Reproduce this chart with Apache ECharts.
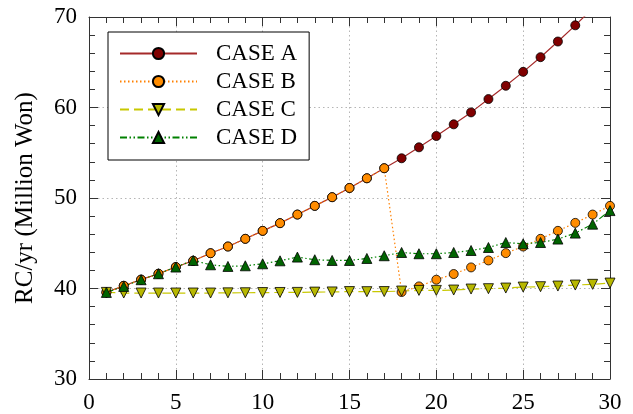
<!DOCTYPE html>
<html>
<head>
<meta charset="utf-8">
<script src="https://cdn.jsdelivr.net/npm/echarts@6/dist/echarts.min.js"></script>
<style>
  html, body { margin: 0; padding: 0; background: #fff; }
  #chart { width: 633px; height: 414px; }
</style>
</head>
<body>
<div id="chart"></div>
<script>
// years on the x axis
var years = [1, 2, 3, 4, 5, 6, 7, 8, 9, 10, 11, 12, 13, 14, 15,
             16, 17, 18, 19, 20, 21, 22, 23, 24, 25, 26, 27, 28, 29, 30]

// RC/yr values (Million Won)
var caseA = [39.57, 40.3, 40.98, 41.63, 42.37, 43.06, 43.9, 44.64, 45.49, 46.37,
             47.22, 48.17, 49.13, 50.09, 51.11, 52.18, 53.29, 54.39, 55.6, 56.85,
             58.14, 59.46, 60.93, 62.4, 63.94, 65.56, 67.29, 69.08, 70.95, 72.9]
var caseB = [39.57, 40.3, 40.98, 41.63, 42.37, 43.06, 43.9, 44.64, 45.49, 46.37,
             47.22, 48.17, 49.13, 50.09, 51.11, 52.18, 53.29, 39.61, 40.23, 40.97,
             41.6, 42.33, 43.1, 43.91, 44.64, 45.49, 46.37, 47.25, 48.17, 49.13]
var caseC = [39.57, 39.5, 39.5, 39.5, 39.5, 39.5, 39.5, 39.52, 39.53, 39.55,
             39.56, 39.57, 39.6, 39.62, 39.66, 39.65, 39.66, 39.72, 39.79, 39.79,
             39.83, 39.94, 39.98, 40.05, 40.16, 40.2, 40.27, 40.38, 40.46, 40.6]
var caseD = [39.57, 40.23, 40.97, 41.63, 42.37, 43.1, 42.62, 42.44, 42.51, 42.73,
             43.06, 43.47, 43.18, 43.1, 43.1, 43.32, 43.62, 43.98, 43.84, 43.84,
             43.98, 44.2, 44.53, 45.08, 44.94, 45.08, 45.46, 46.12, 47.11, 48.61]

var seriesNames = ['CASE A', 'CASE B', 'CASE C', 'CASE D']

function pairs(ys) {
  return years.map(function (x, i) { return [x, ys[i]] })
}

var FONT = 'Liberation Serif'
var AXIS_COLOR = '#333'

// frame axes: ticks pointing inwards on all four sides
function frameAxis(extra) {
  var base = {
    type: 'value',
    axisLine: { show: true, onZero: false, lineStyle: { color: AXIS_COLOR, width: 1 } },
    axisTick: { show: true, inside: true, length: 9, lineStyle: { color: AXIS_COLOR } },
    minorTick: { show: true, splitNumber: 5, length: 6, lineStyle: { color: AXIS_COLOR } },
    axisLabel: { show: false },
    splitLine: { show: false }
  }
  return Object.assign(base, extra)
}

var myChart = echarts.init(document.getElementById('chart'))

var option = {
  backgroundColor: '#ffffff',
  animation: false,
  textStyle: { fontFamily: FONT },
  grid: { left: 89, right: 23, top: 17, bottom: 35, containLabel: false },
  legend: {
    data: seriesNames,
    orient: 'vertical',
    left: 108,
    top: 32,
    itemWidth: 77,
    itemHeight: 14,
    itemGap: 5,
    padding: [10, 12, 11, 11],
    backgroundColor: '#fff',
    borderColor: '#000',
    borderWidth: 1,
    borderRadius: 0,
    textStyle: { fontFamily: FONT, fontSize: 23, color: '#000', padding: [0, 0, 0, 14] }
  },
  xAxis: [
    frameAxis({
      min: 0, max: 30, interval: 5,
      axisLabel: { show: true, fontFamily: FONT, fontSize: 23, color: '#000', margin: 12 },
      splitLine: { show: true, lineStyle: { color: '#b5b5b5', type: [1.5, 3], width: 1 } }
    }),
    frameAxis({ min: 0, max: 30, interval: 5, position: 'top' })
  ],
  yAxis: [
    frameAxis({
      min: 30, max: 70, interval: 10,
      name: 'RC/yr (Million Won)',
      nameLocation: 'middle',
      nameGap: 51,
      nameTextStyle: { fontFamily: FONT, fontSize: 25, color: '#000' },
      axisLabel: { show: true, fontFamily: FONT, fontSize: 23, color: '#000', margin: 12 },
      splitLine: { show: true, lineStyle: { color: '#b5b5b5', type: [1.5, 3], width: 1 } }
    }),
    frameAxis({ min: 30, max: 70, interval: 10, position: 'right' })
  ],
  series: [
    {
      name: 'CASE A',
      type: 'line',
      data: pairs(caseA),
      symbol: 'circle',
      symbolSize: 9,
      clip: true,
      lineStyle: { color: '#a52a2a', width: 1.2, type: 'solid' },
      itemStyle: { color: '#800000', borderColor: '#000', borderWidth: 0.8 }
    },
    {
      name: 'CASE B',
      type: 'line',
      data: pairs(caseB),
      symbol: 'circle',
      symbolSize: 9,
      lineStyle: { color: '#ff8000', width: 1.2, type: [1.5, 2.5] },
      itemStyle: { color: '#ff8c00', borderColor: '#000', borderWidth: 0.8 }
    },
    {
      name: 'CASE C',
      type: 'line',
      data: pairs(caseC),
      symbol: 'triangle',
      symbolRotate: 180,
      symbolSize: 10,
      lineStyle: { color: '#c8c800', width: 1.2, type: [9, 5] },
      itemStyle: { color: '#b8b800', borderColor: '#000', borderWidth: 0.8 }
    },
    {
      name: 'CASE D',
      type: 'line',
      data: pairs(caseD),
      symbol: 'triangle',
      symbolSize: 10,
      lineStyle: { color: '#008000', width: 1.2, type: [7, 2.5, 1.5, 2.5, 1.5, 2.5] },
      itemStyle: { color: '#006400', borderColor: '#000', borderWidth: 0.8 }
    }
  ]
}

myChart.setOption(option)
</script>
</body>
</html>
